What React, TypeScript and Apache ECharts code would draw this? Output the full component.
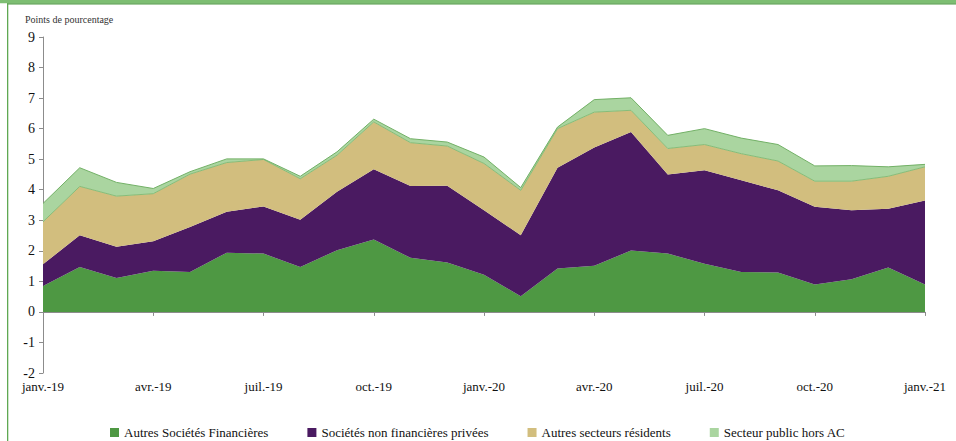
import React, { useEffect, useRef } from "react";
import * as echarts from "echarts";

const months = [
  "janv.-19", "févr.-19", "mars-19", "avr.-19", "mai-19", "juin-19", "juil.-19", "août-19", "sept.-19",
  "oct.-19", "nov.-19", "déc.-19", "janv.-20", "févr.-20", "mars-20", "avr.-20", "mai-20", "juin-20",
  "juil.-20", "août-20", "sept.-20", "oct.-20", "nov.-20", "déc.-20", "janv.-21",
];

const autresSocFin = [0.85, 1.47, 1.11, 1.35, 1.31, 1.94, 1.91, 1.47, 2.02, 2.37, 1.77, 1.62, 1.22, 0.51, 1.42, 1.51, 2.01, 1.91, 1.58, 1.31, 1.29, 0.9, 1.07, 1.45, 0.9];
const socNonFin = [0.71, 1.04, 1.02, 0.96, 1.47, 1.34, 1.54, 1.55, 1.91, 2.3, 2.35, 2.51, 2.11, 2.0, 3.3, 3.87, 3.88, 2.59, 3.06, 3.0, 2.69, 2.54, 2.26, 1.93, 2.75];
const autresResidents = [1.39, 1.6, 1.66, 1.56, 1.73, 1.61, 1.54, 1.34, 1.2, 1.55, 1.42, 1.3, 1.53, 1.47, 1.28, 1.16, 0.71, 0.85, 0.84, 0.87, 0.96, 0.84, 0.95, 1.06, 1.1];
const secteurPublic = [0.6, 0.61, 0.45, 0.17, 0.08, 0.12, 0.02, 0.08, 0.11, 0.09, 0.13, 0.13, 0.21, 0.09, 0.05, 0.41, 0.41, 0.43, 0.52, 0.51, 0.54, 0.5, 0.51, 0.31, 0.08];

const seriesNames = [
  "Autres Sociétés Financières",
  "Sociétés non financières privées",
  "Autres secteurs résidents",
  "Secteur public hors AC",
];

const FONT = "Liberation Serif";

export default function App() {
  const ref = useRef<HTMLDivElement>(null);

  useEffect(() => {
    if (!ref.current) return;
    const chart = echarts.init(ref.current, undefined, { renderer: "svg" });
    const mk = (name: string, data: number[], color: string, line: any) => ({
      name,
      type: "line",
      stack: "total",
      data,
      symbol: "none",
      itemStyle: { color },
      areaStyle: { color, opacity: 1 },
      lineStyle: line,
      emphasis: { disabled: true },
    });
    chart.setOption({
      animation: false,
      textStyle: { fontFamily: FONT },
      title: {
        text: "Points de pourcentage",
        left: 20,
        top: 9,
        textStyle: { fontFamily: FONT, fontSize: 10, fontWeight: "normal", color: "#333" },
      },
      grid: { left: 43, right: 31, top: 37, bottom: 68, containLabel: false, outerBoundsMode: "none" },
      legend: {
        left: 105,
        top: 421,
        icon: "rect",
        itemWidth: 9,
        itemHeight: 9,
        itemGap: 39,
        textStyle: { fontFamily: FONT, fontSize: 13, color: "#111" },
        data: seriesNames,
      },
      xAxis: {
        type: "category",
        data: months,
        boundaryGap: false,
        axisLine: { onZero: true, lineStyle: { color: "#8c8c8c", width: 1 } },
        axisTick: { interval: 2, length: 4, lineStyle: { color: "#8c8c8c" } },
        axisLabel: {
          interval: 2,
          margin: 7,
          fontFamily: FONT,
          fontSize: 13,
          color: "#111",
        },
        splitLine: { show: false },
      },
      yAxis: {
        type: "value",
        min: -2,
        max: 9,
        interval: 1,
        axisLine: { show: true, lineStyle: { color: "#8c8c8c", width: 1 } },
        axisTick: { show: true, length: 4, lineStyle: { color: "#8c8c8c" } },
        axisLabel: { fontFamily: FONT, fontSize: 14, color: "#111", margin: 8 },
        splitLine: { show: false },
      },
      graphic: [
        { type: "rect", shape: { x: 0, y: 0, width: 956, height: 3.3 }, style: { fill: "#7DBE72" }, silent: true },
        { type: "rect", shape: { x: 7, y: 3.3, width: 949, height: 1.2 }, style: { fill: "#4E9A43" }, silent: true },
        { type: "rect", shape: { x: 7, y: 3.3, width: 1.3, height: 438 }, style: { fill: "#5FA853" }, silent: true },
      ],
      series: [
        mk(seriesNames[0], autresSocFin, "#4E9843", { width: 0 }),
        mk(seriesNames[1], socNonFin, "#4A1A61", { width: 0 }),
        mk(seriesNames[2], autresResidents, "#D2BE7E", { width: 1, color: "#86BC78" }),
        mk(seriesNames[3], secteurPublic, "#AAD5A0", { width: 1, color: "#72B066" }),
      ],
    });
    return () => chart.dispose();
  }, []);

  return (
    <div
      ref={ref}
      style={{ position: "absolute", left: 0, top: 0, width: 956, height: 441, background: "#fff" }}
    />
  );
}
